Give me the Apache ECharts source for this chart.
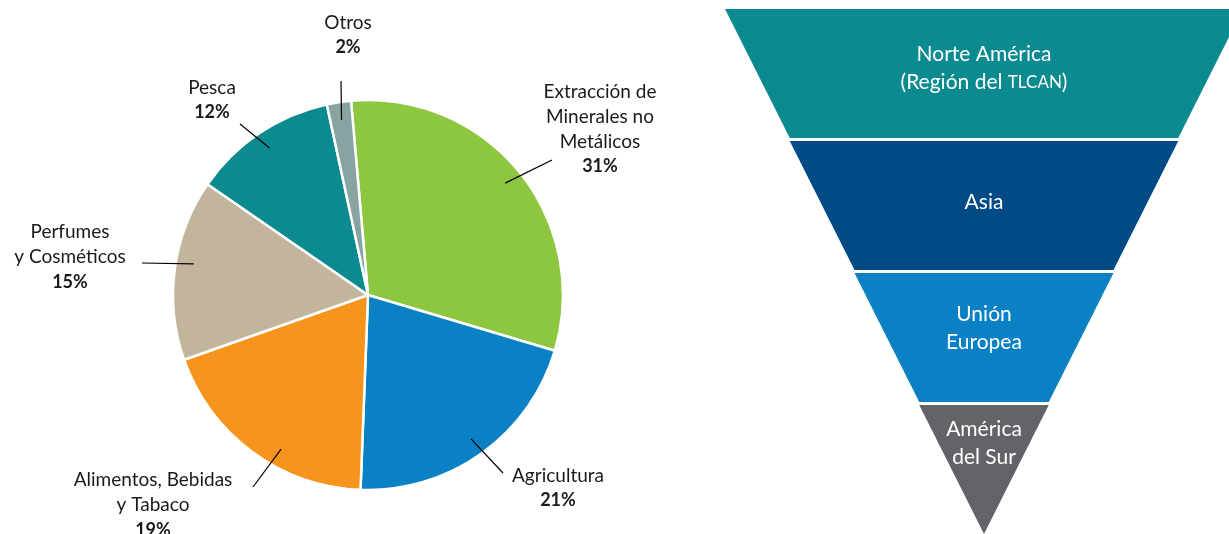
<!DOCTYPE html>
<html>
<head>
<meta charset="utf-8">
<script src="https://cdn.jsdelivr.net/npm/echarts@6/dist/echarts.min.js"></script>
<style>
  html, body { margin: 0; padding: 0; background: #fff; }
  #main { width: 1229px; height: 534px; }
</style>
</head>
<body>
<div id="main"></div>
<script>
// sectores (pie, clockwise from top)
const sectorNames = ['Extracción de\nMinerales no\nMetálicos', 'Agricultura', 'Alimentos, Bebidas\ny Tabaco', 'Perfumes\ny Cosméticos', 'Pesca', 'Otros'];
const sectorShares = [31, 21, 19, 15, 12, 2];
const sectorColors = ['#8dc63f', '#0a81c4', '#f7941e', '#c2b59b', '#0b8a8f', '#87a4a3'];

// regiones (funnel, top to bottom)
const regionNames = ['Norte América\n(Región del TLCAN)', 'Asia', 'Unión\nEuropea', 'América\ndel Sur'];
const regionRank = [4, 3, 2, 1];
const regionColors = ['#0b8a90', '#004a86', '#0a81c4', '#636467'];

// layout only: label centres, leader-line tips, small angle nudges, funnel label shifts
const labelSpots = [[600, 129], [558, 488], [153, 505], [70, 257], [212, 100], [348, 35]];
const lineTips = [[552, 160], [503, 473], [253, 487], [142, 263], [240, 124], [341, 81]];
const startNudge = [0, 0, 7, -2.5, 0, 0];
const funnelShift = [-5, -3, -9, -26];

const pieCenter = [368, 295];
const font = 'Lato';

const myChart = echarts.init(document.getElementById('main'));

// rotate a point around the pie centre (degrees, counter-clockwise on screen)
const rotateAround = (pt, deg) => {
    const a = -deg * Math.PI / 180;
    const dx = pt[0] - pieCenter[0], dy = pt[1] - pieCenter[1];
    return [pieCenter[0] + dx * Math.cos(a) - dy * Math.sin(a),
            pieCenter[1] + dx * Math.sin(a) + dy * Math.cos(a)];
};

const option = {
    animation: false,
    series: [
        {
            type: 'pie',
            z: 2,
            center: pieCenter,
            radius: [0, 195],
            startAngle: 95,
            clockwise: true,
            avoidLabelOverlap: false,
            silent: true,
            label: { show: false },
            labelLine: { show: false },
            itemStyle: { borderColor: '#fff', borderWidth: 2.5 },
            data: sectorNames.map((n, i) => ({
                name: n,
                value: sectorShares[i],
                itemStyle: { color: sectorColors[i] }
            }))
        },
        {
            // invisible inner pie on top: only carries labels + leader lines
            type: 'pie',
            z: 5,
            center: pieCenter,
            radius: [0, 177],
            startAngle: 95,
            clockwise: true,
            avoidLabelOverlap: false,
            silent: true,
            itemStyle: { color: 'rgba(0,0,0,0)' },
            label: {
                show: true,
                position: 'outside',
                align: 'center',
                color: '#1a1a1a',
                fontFamily: font,
                fontSize: 19,
                lineHeight: 25,
                formatter: function (p) {
                    const lines = p.name.split('\n').map(s => '{n|' + s + '}');
                    return lines.join('\n') + '\n{p|' + p.value + '%}';
                },
                rich: {
                    n: { fontFamily: font, fontSize: 19, lineHeight: 25, color: '#1a1a1a' },
                    p: { fontFamily: font, fontSize: 18, lineHeight: 25, fontWeight: 'bold', color: '#1a1a1a' }
                }
            },
            labelLine: {
                show: true,
                length: 10,
                length2: 0,
                lineStyle: { color: '#000', width: 1.2 }
            },
            labelLayout: function (params) {
                const i = params.dataIndex;
                const spot = labelSpots[i];
                const tip = lineTips[i];
                const start = params.labelLinePoints
                    ? rotateAround(params.labelLinePoints[0], startNudge[i])
                    : tip;
                return {
                    x: spot[0],
                    y: spot[1],
                    align: 'center',
                    verticalAlign: 'middle',
                    labelLinePoints: [start, tip, tip]
                };
            },
            data: sectorNames.map((n, i) => ({ name: n, value: sectorShares[i] }))
        },
        {
            type: 'funnel',
            left: 725,
            top: 9,
            width: 518,
            height: 525,
            min: 0,
            max: 4,
            minSize: '0%',
            maxSize: '100%',
            sort: 'descending',
            gap: 3,
            silent: true,
            label: {
                show: true,
                position: 'inside',
                color: '#fff',
                fontFamily: font,
                fontSize: 21,
                lineHeight: 28,
                formatter: function (p) {
                    return p.name.replace('TLCAN', '{sc|TLCAN}');
                },
                rich: {
                    sc: { fontFamily: font, fontSize: 17, color: '#fff', lineHeight: 28 }
                }
            },
            labelLine: { show: false },
            labelLayout: function (params) {
                return { dy: funnelShift[params.dataIndex] };
            },
            itemStyle: { borderWidth: 0 },
            data: regionNames.map((n, i) => ({
                name: n,
                value: regionRank[i],
                itemStyle: { color: regionColors[i] }
            }))
        }
    ]
};

myChart.setOption(option);
</script>
</body>
</html>
